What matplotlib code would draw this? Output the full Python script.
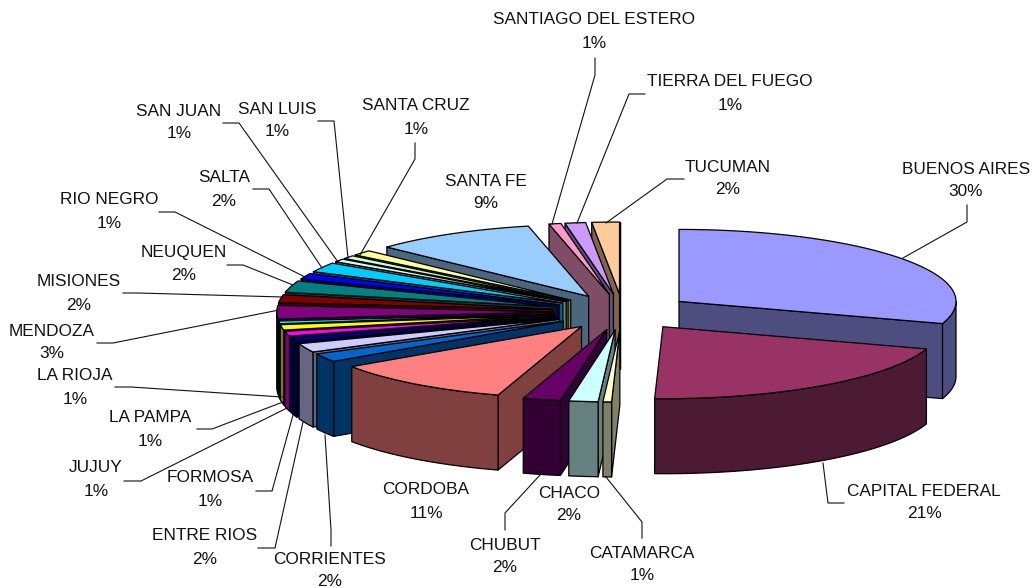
import numpy as np
import matplotlib
matplotlib.use('Agg')
from matplotlib import pyplot as plt

# slices clockwise from 12 o'clock
provinces = ["BUENOS AIRES", "CAPITAL FEDERAL", "CATAMARCA", "CHACO", "CHUBUT", "CORDOBA",
             "CORRIENTES", "ENTRE RIOS", "FORMOSA", "JUJUY", "LA PAMPA", "LA RIOJA",
             "MENDOZA", "MISIONES", "NEUQUEN", "RIO NEGRO", "SALTA", "SAN JUAN",
             "SAN LUIS", "SANTA CRUZ", "SANTA FE", "SANTIAGO DEL ESTERO",
             "TIERRA DEL FUEGO", "TUCUMAN"]
shares = [30.0, 20.5, 0.5, 1.7, 2.2, 10.7,
          1.9, 2.0, 1.1, 1.1, 1.2, 0.6,
          3.0, 1.8, 2.6, 1.3, 2.2, 0.7,
          0.75, 1.2, 9.5, 0.7,
          1.2, 1.6]
share_labels = ["30%", "21%", "1%", "2%", "2%", "11%",
                "2%", "2%", "1%", "1%", "1%", "1%",
                "3%", "2%", "2%", "1%", "2%", "1%",
                "1%", "1%", "9%", "1%",
                "1%", "2%"]
colors = ['#9999FF', '#993366', '#FFFFCC', '#CCFFFF', '#660066', '#FF8080',
          '#0066CC', '#CCCCFF', '#000080', '#FF00FF', '#FFFF00', '#00FFFF',
          '#800080', '#800000', '#008080', '#0000FF', '#00CCFF', '#CCFFFF',
          '#CCFFCC', '#FFFF99', '#99CCFF', '#FF99CC',
          '#CC99FF', '#FFCC99']

# label centres (first line, second line is 23 px lower)
label_x = [966, 924, 642, 569, 505, 426, 330, 205, 210, 96, 150, 75,
           52, 79, 184, 109, 224, 179, 277, 416, 486, 594, 730, 728]
label_y = [169, 491, 553, 493, 545, 490, 559, 536, 478, 468, 418, 376,
           331, 282, 253, 200, 178, 111, 109, 106, 181, 20, 82, 167]

# leader lines, pixel layout
leaders = {
    "BUENOS AIRES": [(967, 205), (967, 222), (903, 258)],
    "CAPITAL FEDERAL": [(844, 503), (828, 503), (823, 463)],
    "CATAMARCA": [(642, 538), (642, 522), (606, 477)],
    "CHUBUT": [(505, 530), (505, 513), (540, 475)],
    "CORRIENTES": [(331, 546), (331, 530), (325, 435)],
    "ENTRE RIOS": [(258, 548), (275, 548), (303, 422)],
    "FORMOSA": [(256, 491), (272, 491), (293, 415)],
    "JUJUY": [(124, 481), (141, 481), (287, 408)],
    "LA PAMPA": [(197, 429), (212, 429), (283, 402)],
    "LA RIOJA": [(115, 387), (131, 387), (282, 397)],
    "MENDOZA": [(97, 343), (113, 343), (279, 310)],
    "MISIONES": [(123, 293), (138, 293), (283, 297)],
    "NEUQUEN": [(227, 265), (243, 265), (293, 285)],
    "RIO NEGRO": [(159, 212), (175, 212), (305, 277)],
    "SALTA": [(253, 189), (269, 189), (322, 268)],
    "SAN JUAN": [(223, 123), (239, 123), (338, 262)],
    "SAN LUIS": [(318, 121), (334, 121), (348, 258)],
    "SANTA CRUZ": [(415, 143), (415, 159), (360, 255)],
    "SANTIAGO DEL ESTERO": [(595, 58), (595, 75), (552, 224)],
    "TIERRA DEL FUEGO": [(645, 94), (629, 94), (577, 223)],
    "TUCUMAN": [(684, 179), (667, 179), (606, 223)],
}

# pie projection in pixels
cx, cy = 623, 312
rx, ry = 277, 72
depth = 75
explode = 0.25

plt.rcParams['font.family'] = ['Liberation Sans', 'DejaVu Sans']

fig = plt.figure(figsize=(10.32, 5.88), dpi=100)
ax = fig.add_axes([0, 0, 1, 1])
ax.set_xlim(0, 1032)
ax.set_ylim(588, 0)
ax.axis('off')

values = np.array(shares) / sum(shares) * 360
ends = np.cumsum(values)
starts = ends - values
mids = (starts + ends) / 2


def rim(apex, deg):
    rad = np.radians(deg)
    return apex[0] + rx * np.sin(rad), apex[1] - ry * np.cos(rad)


def dark(color):
    return tuple(c * 0.5 for c in matplotlib.colors.to_rgb(color))


def face(xs, ys, color, z):
    ax.fill(xs, ys, facecolor=color, edgecolor='black', linewidth=0.9, joinstyle='round', zorder=z)


# back slices first so the front ones cover them
order = np.argsort(-np.cos(np.radians(mids)))
for z, i in enumerate(order):
    a1, a2 = starts[i], ends[i]
    mid = np.radians(mids[i])
    apex = (cx + explode * rx * np.sin(mid), cy - explode * ry * np.cos(mid))
    col = colors[i]
    base = z * 10 + 1

    # cut walls, only the ones facing the viewer
    if np.sin(np.radians(a1)) < 0:
        x, y = rim(apex, a1)
        face([apex[0], x, x, apex[0]], [apex[1], y, y + depth, apex[1] + depth], dark(col), base)
    if np.sin(np.radians(a2)) > 0:
        x, y = rim(apex, a2)
        face([apex[0], x, x, apex[0]], [apex[1], y, y + depth, apex[1] + depth], dark(col), base)

    # rounded outer wall
    lo, hi = max(a1, 90), min(a2, 270)
    if hi > lo:
        arc = np.linspace(lo, hi, 60)
        x, y = rim(apex, arc)
        face(np.r_[x, x[::-1]], np.r_[y, y[::-1] + depth], dark(col), base + 1)

    # top
    arc = np.linspace(a1, a2, 80)
    x, y = rim(apex, arc)
    face(np.r_[apex[0], x], np.r_[apex[1], y], col, base + 2)

for name, pts in leaders.items():
    ax.plot([p[0] for p in pts], [p[1] for p in pts], color='#111111', linewidth=0.8, zorder=500)

for i, name in enumerate(provinces):
    ax.text(label_x[i], label_y[i], name, ha='center', va='center', fontsize=12.4, color='#111111', zorder=600)
    ax.text(label_x[i], label_y[i] + 23, share_labels[i], ha='center', va='center', fontsize=12.4, color='#111111', zorder=600)

fig.savefig('out.png', dpi=100)
